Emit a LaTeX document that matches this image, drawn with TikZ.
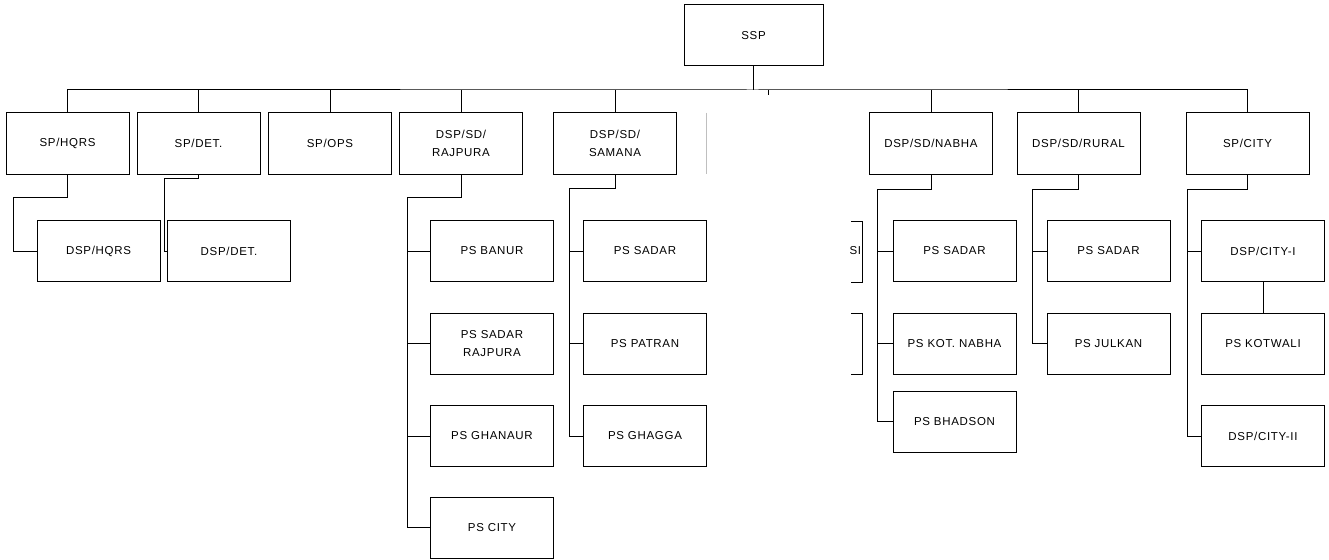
\documentclass[tikz,border=0pt]{standalone}
\usepackage{fontspec}
\setmainfont{Liberation Sans}[LetterSpace=6]
\usetikzlibrary{positioning, calc}

\begin{document}
\begin{tikzpicture}[x=1pt,y=-1pt,line width=1pt,
    post/.style={draw, minimum width=123pt, minimum height=61pt, inner sep=0pt, align=center, font=\fontsize{11.5}{18}\selectfont},
    wire/.style={draw, line width=1pt}]
      \path[fill=white] (0,0) rectangle (1329,559);

      \node[post, minimum width=139pt] (ssp) at (753.5,35.5) {SSP};

      \node[post] (sphqrs) at (67.5,143.5) {SP/HQRS};
      \node[post] (spdet) at (198.5,143.5) {SP/DET.};
      \node[post] (spops) at (330,143.5) {SP/OPS};
      \node[post] (rajpura) at (461,143.5) {DSP/SD/\\RAJPURA};
      \node[post] (samana) at (615,143.5) {DSP/SD/\\SAMANA};
      \node[post] (nabha) at (931,143.5) {DSP/SD/NABHA};
      \node[post] (rural) at (1078.5,143.5) {DSP/SD/RURAL};
      \node[post] (spcity) at (1247.5,143.5) {SP/CITY};

      \node[post] (dsphqrs) at (98.5,251) {DSP/HQRS};
      \node[post] (dspdet) at (229,251) {DSP/DET.};

      \node[post] (banur) at (492,251) {PS BANUR};
      \node[post] (sadarraj) at (492,343.5) {PS SADAR\\RAJPURA};
      \node[post] (ghanaur) at (492,436) {PS GHANAUR};
      \node[post] (psraj) at (492,527.5) {PS CITY};

      \node[post] (sadarsam) at (645,251) {PS SADAR};
      \node[post] (patran) at (645,343.5) {PS PATRAN};
      \node[post] (ghagga) at (645,436) {PS GHAGGA};

      \node[post] (sadarnab) at (954.5,251) {PS SADAR};
      \node[post] (kotnabha) at (954.5,343.5) {PS KOT. NABHA};
      \node[post] (bhadson) at (954.5,421.5) {PS BHADSON};

      \node[post] (sadarrur) at (1108.5,251) {PS SADAR};
      \node[post] (julkan) at (1108.5,343.5) {PS JULKAN};

      \node[post] (cityone) at (1263,251) {DSP/CITY-I};
      \node[post] (kotwali) at (1263,343.5) {PS KOTWALI};
      \node[post] (citytwo) at (1263,436) {DSP/CITY-II};

      \coordinate (bus) at (753.5,90);
      \coordinate (hqbus) at (13,197);
      \coordinate (detbus) at (164,178);
      \coordinate (rajbus) at (407,197);
      \coordinate (sambus) at (569,188);
      \coordinate (nabbus) at (877,189);
      \coordinate (rurbus) at (1032,189);
      \coordinate (citybus) at (1187,189);

      \draw[wire] (ssp.south) -- (bus);
      \draw[wire] (sphqrs.north) |- (bus) -| (spcity.north);
      \foreach \n in {spdet,spops,rajpura,samana,nabha,rural}
        \draw[wire] (\n.north) -- (\n.north |- bus);
      \draw[wire] ($(bus)+(15,0)$) -- ++(0,5);

      \draw[wire] (sphqrs.south) |- (hqbus) |- (dsphqrs.west);
      \draw[wire] (spdet.south) |- (detbus) |- (dspdet.west);

      \draw[wire] (rajpura.south) |- (rajbus) |- (psraj.west);
      \foreach \n in {banur,sadarraj,ghanaur}
        \draw[wire] (\n.west) -- (\n.west -| rajbus);

      \draw[wire] (samana.south) |- (sambus) |- (ghagga.west);
      \foreach \n in {sadarsam,patran}
        \draw[wire] (\n.west) -- (\n.west -| sambus);

      \draw[wire] (nabha.south) |- (nabbus) |- (bhadson.west);
      \foreach \n in {sadarnab,kotnabha}
        \draw[wire] (\n.west) -- (\n.west -| nabbus);

      \draw[wire] (rural.south) |- (rurbus) |- (julkan.west);
      \draw[wire] (sadarrur.west) -- (sadarrur.west -| rurbus);

      \draw[wire] (spcity.south) |- (citybus) |- (citytwo.west);
      \draw[wire] (cityone.west) -- (cityone.west -| citybus);
      \draw[wire] (cityone.south) -- (kotwali.north);

      \draw[gray!50, line width=0.8pt] (706,113) -- (706,174);
      \draw[wire] (851,221) -| (862,282) -- (851,282);
      \draw[wire] (851,313) -| (862,374) -- (851,374);
      \begin{scope}
        \clip (846,230) rectangle (861,270);
        \node[font=\fontsize{11.5}{18}\selectfont, anchor=west, inner sep=0pt] (frag) at (849,251) {SI};
      \end{scope}
\end{tikzpicture}
\end{document}
